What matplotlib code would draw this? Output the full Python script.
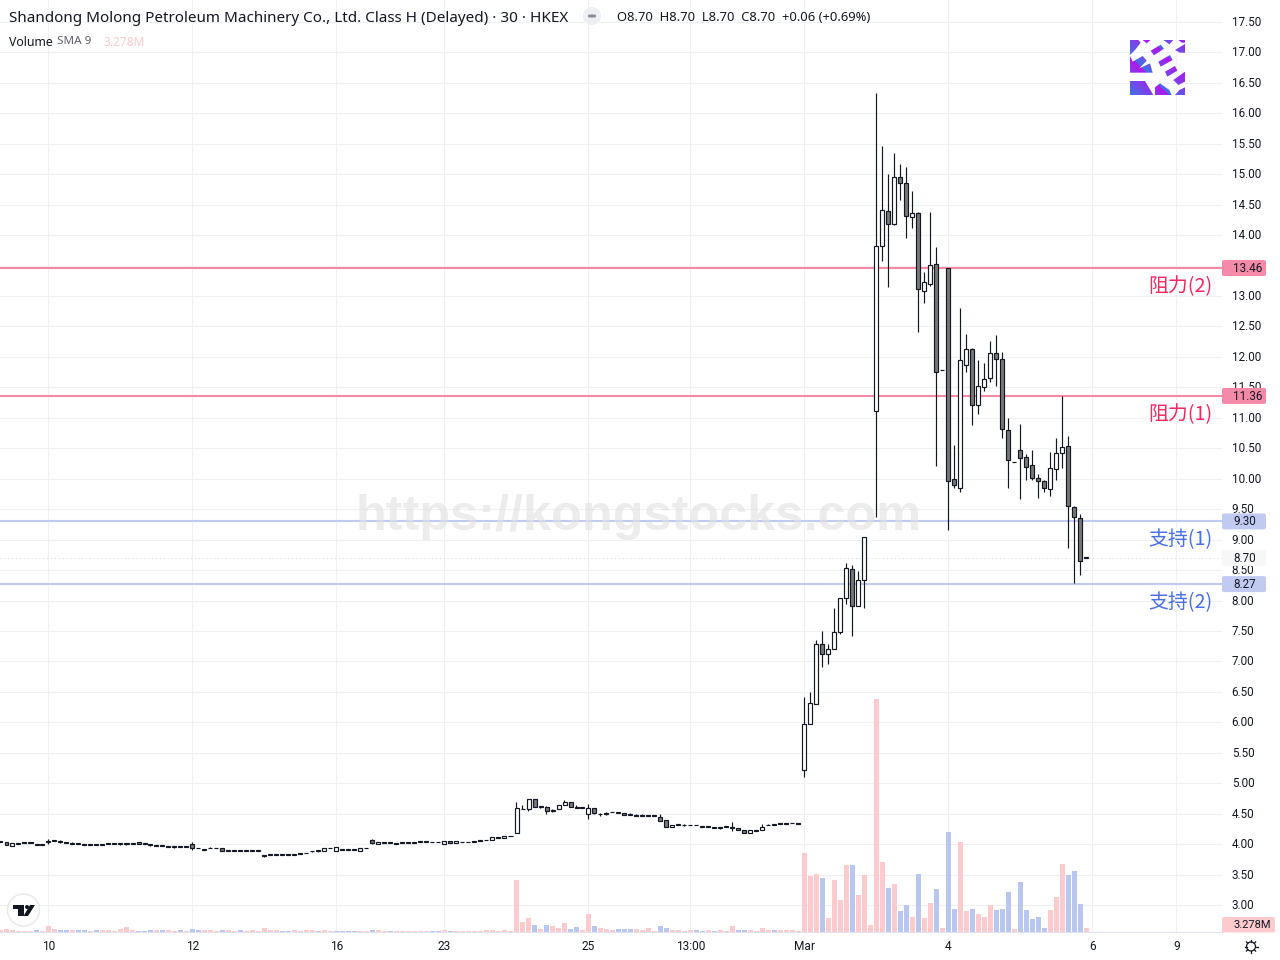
import numpy as np
import matplotlib
matplotlib.use('Agg')
import matplotlib.pyplot as plt
from matplotlib.patches import Circle, FancyBboxPatch, Polygon
from matplotlib.path import Path
from matplotlib.transforms import ScaledTranslation

nan = float('nan')

opens = [
    4.04,4.03,3.97,4.01,4.02,4.02,3.99,3.99,4.04,4.05,
    4.04,4.02,4.01,4.01,3.99,3.99,3.99,3.99,4.00,4.00,
    4.00,4.00,4.01,4.03,4.00,3.99,3.97,3.97,3.96,3.96,
    3.96,3.96,4.00,3.93,3.91,3.93,3.93,3.94,3.89,3.89,
    3.89,3.89,3.89,3.89,3.81,3.82,3.82,3.82,3.83,3.83,
    3.84,3.85,3.88,3.89,3.88,3.93,3.89,3.91,3.91,3.91,
    3.89,3.93,4.07,4.00,4.02,4.02,4.01,
    4.02,4.02,4.02,4.04,4.04,4.03,4.03,4.00,4.05,4.02,
    4.03,4.03,4.04,4.05,4.06,4.07,4.10,4.10,4.13,4.18,
    4.57,4.58,4.74,4.61,4.61,4.55,4.58,4.64,4.69,4.60,
    4.59,4.49,4.59,4.49,4.50,4.52,4.51,4.51,4.48,4.47,
    4.47,4.46,4.46,4.44,4.40,4.28,4.32,4.31,4.31,4.31,
    4.28,4.28,4.27,4.27,4.28,4.27,4.26,4.23,4.18,4.22,
    4.23,4.31,4.32,4.33,4.33,4.34,4.33,
    5.21,5.98,6.30,7.28,7.13,7.21,7.49,8.04,8.51,7.91,
    8.33,nan,11.12,13.83,14.39,14.19,14.95,14.85,14.29,14.36,
    13.09,13.19,13.52,11.78,13.46,10.00,9.85,11.86,12.13,11.21,
    11.51,11.65,12.06,11.96,10.80,10.27,10.48,10.35,10.22,10.02,
    9.96,9.83,10.16,10.42,10.53,9.53,9.35,8.70]
highs = [
    4.04,4.03,4.02,4.01,4.02,4.02,3.99,3.99,4.08,4.06,
    4.06,4.04,4.03,4.01,4.01,3.99,4.01,3.99,4.00,4.00,
    4.01,4.02,4.02,4.03,4.00,3.99,3.97,3.97,3.96,3.96,
    3.96,3.96,4.03,3.94,3.91,3.95,3.94,3.94,3.89,3.89,
    3.89,3.90,3.89,3.89,3.83,3.83,3.83,3.82,3.83,3.83,
    3.85,3.85,3.89,3.90,3.94,3.93,3.95,3.91,3.91,3.91,
    3.94,3.93,4.08,4.03,4.02,4.02,4.02,
    4.02,4.02,4.02,4.04,4.04,4.03,4.03,4.05,4.05,4.05,
    4.03,4.03,4.04,4.05,4.06,4.11,4.10,4.13,4.13,4.69,
    4.65,4.74,4.74,4.63,4.63,4.57,4.64,4.72,4.69,4.64,
    4.59,4.66,4.60,4.51,4.53,4.52,4.51,4.51,4.51,4.49,
    4.49,4.46,4.46,4.49,4.40,4.31,4.33,4.33,4.32,4.31,
    4.29,4.30,4.27,4.27,4.28,4.36,4.26,4.23,4.23,4.22,
    4.33,4.33,4.33,4.33,4.33,4.34,4.33,
    6.42,6.50,7.35,7.50,7.29,7.88,8.04,8.61,8.58,8.49,
    9.04,nan,16.33,15.46,15.00,15.35,15.17,15.12,14.72,14.38,
    13.39,14.38,13.80,11.78,13.46,10.55,12.80,12.38,12.15,11.95,
    11.90,12.26,12.36,12.08,11.00,10.27,10.90,10.40,10.47,10.07,
    9.98,10.44,10.67,11.36,10.70,9.55,9.42,8.70]
lows = [
    4.04,3.98,3.97,4.01,4.02,4.02,3.99,3.99,4.00,4.05,
    4.02,4.02,4.01,4.01,3.99,3.99,3.99,3.99,4.00,4.00,
    3.99,3.98,4.01,4.00,4.00,3.97,3.97,3.97,3.96,3.94,
    3.95,3.96,3.91,3.93,3.91,3.93,3.93,3.88,3.89,3.89,
    3.89,3.89,3.89,3.89,3.79,3.82,3.82,3.82,3.83,3.83,
    3.84,3.85,3.87,3.87,3.88,3.93,3.89,3.91,3.91,3.91,
    3.89,3.93,4.00,4.00,4.02,4.02,4.01,
    4.02,4.02,4.02,4.04,4.04,4.03,4.03,4.00,4.02,4.02,
    4.03,4.03,4.04,4.05,4.06,4.07,4.10,4.10,4.13,4.18,
    4.57,4.55,4.61,4.59,4.50,4.53,4.58,4.64,4.61,4.60,
    4.59,4.42,4.49,4.47,4.48,4.52,4.51,4.48,4.48,4.47,
    4.47,4.46,4.46,4.38,4.28,4.28,4.31,4.30,4.31,4.31,
    4.28,4.28,4.27,4.25,4.28,4.22,4.23,4.18,4.18,4.22,
    4.23,4.31,4.32,4.33,4.33,4.34,4.33,
    5.11,5.98,6.30,6.91,6.96,7.21,7.45,7.95,7.41,7.91,
    7.87,nan,9.38,13.58,13.15,14.17,14.57,13.96,14.11,12.41,
    12.88,13.17,10.21,11.78,9.16,9.84,9.79,11.76,10.88,11.07,
    11.44,11.59,11.52,10.67,9.84,10.27,9.67,9.98,9.98,9.69,
    9.79,9.72,9.98,10.17,8.87,8.28,8.42,8.70]
closes = [
    4.04,3.98,4.02,4.01,4.02,4.02,3.99,3.99,4.04,4.05,
    4.04,4.02,4.01,4.01,3.99,3.99,3.99,3.99,4.00,4.00,
    4.00,4.00,4.01,4.00,4.00,3.99,3.97,3.97,3.96,3.96,
    3.96,3.96,3.94,3.93,3.91,3.93,3.93,3.88,3.89,3.89,
    3.89,3.89,3.89,3.89,3.81,3.82,3.82,3.82,3.83,3.83,
    3.84,3.85,3.88,3.89,3.94,3.93,3.95,3.91,3.91,3.91,
    3.94,3.93,4.02,4.03,4.02,4.02,4.01,
    4.02,4.02,4.02,4.04,4.04,4.03,4.03,4.05,4.02,4.05,
    4.03,4.03,4.04,4.05,4.06,4.11,4.10,4.13,4.13,4.59,
    4.57,4.74,4.61,4.61,4.54,4.55,4.64,4.69,4.61,4.60,
    4.59,4.59,4.51,4.49,4.50,4.52,4.51,4.48,4.48,4.47,
    4.47,4.46,4.46,4.38,4.28,4.31,4.32,4.31,4.31,4.31,
    4.28,4.28,4.27,4.27,4.28,4.27,4.23,4.18,4.23,4.22,
    4.28,4.31,4.32,4.33,4.33,4.34,4.33,
    5.98,6.31,7.28,7.13,7.20,7.49,8.04,8.53,7.91,8.33,
    9.04,nan,13.83,14.42,14.19,14.95,14.85,14.31,14.36,13.11,
    13.23,13.51,11.76,11.78,9.97,9.89,11.95,12.13,11.21,11.53,
    11.63,12.06,11.96,10.81,10.30,10.27,10.34,10.20,10.02,9.96,
    9.84,10.17,10.42,10.52,9.55,9.37,8.65,8.70]
volumes = [
    1.6,2.7,1.6,1.1,1.1,1.1,1.9,1.1,5.1,2.7,
    1.9,1.9,1.9,1.9,1.9,1.1,1.9,1.9,1.9,1.1,
    2.7,4.3,1.9,1.1,1.1,1.9,1.9,1.9,1.9,1.1,
    1.9,1.1,2.7,1.9,1.9,1.9,1.1,1.9,1.9,1.1,
    1.9,1.1,1.9,1.1,3.5,1.9,1.9,1.1,1.1,1.9,
    1.1,1.9,1.9,1.1,1.9,1.1,1.1,1.1,1.1,1.1,
    1.1,1.1,1.9,1.9,1.1,1.1,1.1,
    0.8,0.8,0.8,0.8,0.8,0.8,0.8,1.6,0.8,0.8,
    0.8,0.8,0.8,0.8,1.6,1.6,0.8,1.6,0.8,41.6,
    8.0,11.2,5.6,2.4,5.6,4.8,3.2,7.2,2.4,4.0,
    1.6,14.4,4.8,3.2,2.4,1.6,2.4,2.4,2.4,2.4,
    1.6,3.2,0.8,4.8,3.2,1.6,1.6,0.8,1.6,1.6,
    0.8,1.6,0.8,1.6,0.8,4.8,1.6,1.6,1.6,0.8,
    3.2,1.6,1.6,1.6,1.6,1.6,0.8,
    63.2,44.8,46.4,43.2,11.2,41.6,25.6,53.6,53.6,29.6,
    45.6,5.6,186.4,56.0,35.2,38.4,16.8,21.6,12.0,46.4,
    11.2,23.2,34.4,3.2,80.0,18.4,72.0,16.8,18.4,14.4,
    12.0,21.6,17.6,18.4,32.0,2.4,40.0,17.6,10.4,12.0,
    3.2,17.6,28.0,54.4,45.6,48.8,22.4,3.3]
down_volume_bars = [
    6,10,11,13,14,16,23,24,25,27,30,32,33,37,40,47,48,53,56,57,58,59,62,65,
    72,73,75,89,91,95,96,99,103,104,105,110,111,116,117,119,123,124,129,
    137,142,148,150,151,153,156,158,159,162,166,167,168,170,171,172,173,174,178,179,180]

time_ticks = [8, 32, 56, 74, 98, 115, 134, 158, 182, 196]
time_labels = ['10', '12', '16', '23', '25', '13:00', 'Mar', '4', '6', '9']
price_ticks = np.arange(3.0, 17.51, 0.5)

resistance_levels = [13.46, 11.36]
support_levels = [9.30, 8.27]
last_price = 8.70

DARK = '#131722'
PINK = '#f48aa8'
BLUE = '#c1cbf1'
GRID = '#f0f1f4'
FONT = 'Noto Sans'

fig = plt.figure(figsize=(12.8, 9.6), dpi=100)
pos = [0, 28 / 960, 1222 / 1280, 932 / 960]
ax = fig.add_axes(pos)
xlim = (-0.5 / 6, 1221.5 / 6)
ax.set_xlim(xlim)
ax.set_ylim(17.5 - 910 / 60.9, 17.5 + 22 / 60.9)

x = np.arange(len(closes))
o = np.array(opens)
c = np.array(closes)

# linhas de grade e niveis
ax.set_xticks(time_ticks)
ax.set_xticklabels(time_labels, fontsize=8.6, color=DARK, family='Roboto')
ax.set_yticks(price_ticks)
ax.set_yticklabels(['%.2f' % p for p in price_ticks], fontsize=8.4, color=DARK, family='Roboto')
ax.yaxis.tick_right()
ax.tick_params(axis='y', length=0, pad=7.0)
ax.tick_params(axis='x', length=0, pad=5.5)
ax.grid(True, color=GRID, lw=0.8, zorder=0)
ax.set_axisbelow(True)
for s in ['top', 'left', 'right']:
    ax.spines[s].set_visible(False)
ax.spines['bottom'].set_color('#e0e3eb')
ax.spines['bottom'].set_linewidth(0.8)
for t in ax.get_yticklabels():
    t.set_transform(t.get_transform() + ScaledTranslation(0, 1 / 100, fig.dpi_scale_trans))

for lvl in resistance_levels:
    ax.axhline(lvl, color=PINK, lw=1.5, zorder=1)
for lvl in support_levels:
    ax.axhline(lvl, color=BLUE, lw=1.5, zorder=1)
ax.axhline(last_price, color='#d3d5da', lw=0.7, ls=(0, (1, 3)), zorder=1)

# velas
ax.vlines(x, lows, highs, color=DARK, lw=0.85, zorder=2)
up = c >= o
body = np.maximum(np.abs(c - o), 0.012)
base = np.minimum(o, c)
ax.bar(x[up], body[up], bottom=base[up], width=4 / 6, color='white',
       edgecolor=DARK, lw=0.85, zorder=3)
ax.bar(x[~up], body[~up], bottom=base[~up], width=4 / 6, color='#787878',
       edgecolor=DARK, lw=0.85, zorder=3)

# volume
vax = fig.add_axes(pos, sharex=ax, zorder=2)
vax.patch.set_alpha(0)
vax.set_ylim(0, 932 * 0.8)
vax.axis('off')
vol_colors = ['#fdcacd'] * len(volumes)
for i in down_volume_bars:
    vol_colors[i] = '#b9c6f0'
vax.bar(x, volumes, width=5 / 6, color=vol_colors, lw=0)
vax.set_xlim(xlim)

# camada em pixels para textos e logos
ov = fig.add_axes([0, 0, 1, 1], zorder=5)
ov.patch.set_alpha(0)
ov.axis('off')

ov.text(9, 18.3, 'Shandong Molong Petroleum Machinery Co., Ltd. Class H (Delayed) · 30 · HKEX',
        fontsize=10.98, color=DARK, family=FONT, va='center')
ov.add_patch(Circle((592, 16), 9, color='#eeeff2', lw=0))
ov.add_patch(FancyBboxPatch((588, 14.5), 8, 3, boxstyle='round,pad=0,rounding_size=1.2',
                            fc='#8a8e99', ec='none'))
ov.text(617, 17.5, 'O8.70  H8.70  L8.70  C8.70  +0.06 (+0.69%)', fontsize=9.35,
        color=DARK, family=FONT, va='center')
ov.text(9, 42, 'Volume', fontsize=8.8, color=DARK, family=FONT, va='center')
ov.text(57, 42, 'SMA 9', fontsize=8.4, color='#5d606b', family=FONT, va='center')
ov.text(103, 42, '3.278M', fontsize=8.6, color='#fdcacd', family=FONT, va='center')

# caixas de precos
boxes = [(13.46, PINK), (11.36, PINK), (9.30, BLUE), (8.27, BLUE), (8.70, '#f7f7f7')]
for val, col in boxes:
    y = 22 + (17.5 - val) * 60.9
    ov.add_patch(FancyBboxPatch((1222, y - 8), 44, 16, boxstyle='round,pad=0,rounding_size=2',
                                fc=col, ec='none'))
    ov.text(1233, y + 0.5, '%.2f' % val, fontsize=8.4, color=DARK, family='Roboto', va='center')
ov.add_patch(FancyBboxPatch((1222, 917), 53, 15.5, boxstyle='round,pad=0,rounding_size=2',
                            fc='#fdcacd', ec='none'))
ov.text(1233, 925, '3.278M', fontsize=8.0, color=DARK, family='Roboto', va='center')

# rotulos dos niveis
cjk = ['Noto Sans CJK SC', 'DejaVu Sans']
for txt, y, col in [('阻力(2)', 287, '#f2295f'), ('阻力(1)', 415, '#f2295f'),
                    ('支持(1)', 540, '#4a6fe3'), ('支持(2)', 603, '#4a6fe3')]:
    ov.text(1148, y, txt, fontsize=14.3, color=col, family=cjk, va='center')

# marca d'agua
ov.text(638.5, 517, 'https://kongstocks.com', fontsize=36.3, fontweight='bold',
        family='Liberation Sans', color='#e0e0e0', alpha=0.6, ha='center', va='center')

# logo roxo
grad = np.linspace(0, 1, 64)
gx, gy = np.meshgrid(grad, grad)
t = ((gx + (1 - gy)) % 0.7) / 0.7
rgb = np.zeros((64, 64, 3))
for i, (a, b) in enumerate(zip((0.25, 0.45, 0.90), (0.70, 0.08, 0.93))):
    rgb[:, :, i] = a + (b - a) * t
im = ov.imshow(rgb, extent=(1130, 1185, 95, 40), aspect='auto', zorder=1)
logo_pieces = [
    [(30, 120), (55, 120), (62, 128), (45, 150), (30, 165)],
    [(68, 120), (92, 120), (80, 130)],
    [(130, 120), (160, 120), (148, 133)],
    [(175, 120), (195, 120), (195, 128), (185, 128)],
    [(165, 150), (195, 132), (195, 158), (180, 158)],
    [(92, 152), (122, 134), (132, 146), (102, 166)],
    [(115, 185), (150, 165), (158, 180), (122, 200)],
    [(135, 215), (165, 198), (172, 212), (142, 230)],
    [(30, 168), (38, 185), (68, 168), (80, 182), (58, 205), (90, 190), (98, 218), (30, 218)],
    [(30, 243), (75, 243), (100, 285), (30, 285)],
    [(105, 262), (120, 250), (148, 270), (155, 285), (105, 285)],
    [(165, 285), (195, 285), (195, 262), (178, 270)],
    [(160, 240), (195, 215), (195, 245), (175, 255)],
]
paths = [Path([(1120 + px / 3, py / 3) for px, py in p] + [(1120 + p[0][0] / 3, p[0][1] / 3)], closed=True)
         for p in logo_pieces]
ov.set_xlim(0, 1280)
ov.set_ylim(960, 0)
im.set_clip_path(Path.make_compound_path(*paths), transform=ov.transData)

# logo TV
ov.add_patch(Circle((23.5, 910), 16, fc='white', ec='#e8e9ec', lw=1))
ov.add_patch(Polygon([(13, 905), (24, 905), (24, 916), (18, 916), (18, 909), (13, 909)],
                     closed=True, fc=DARK, ec='none'))
ov.add_patch(Circle((27, 907), 2, fc=DARK, ec='none'))
ov.add_patch(Polygon([(30, 905), (35, 905), (28, 916), (23.5, 916)], closed=True, fc=DARK, ec='none'))

# engrenagem
ov.add_patch(Circle((1251, 946.5), 4.5, fc='none', ec=DARK, lw=0.9))
for ang in np.arange(0, 360, 45):
    r = np.radians(ang)
    ov.plot([1251 + 4.5 * np.cos(r), 1251 + 6.5 * np.cos(r)],
            [946.5 + 4.5 * np.sin(r), 946.5 + 6.5 * np.sin(r)], color=DARK, lw=0.9)

fig.savefig('out.png', dpi=100, facecolor='white')
